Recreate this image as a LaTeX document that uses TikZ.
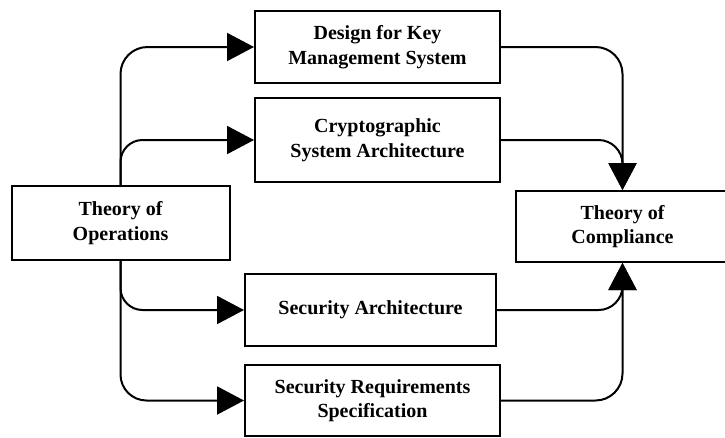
\documentclass[tikz,border=0pt]{standalone}
\usepackage{fontspec}
\setmainfont{Liberation Serif}
\usetikzlibrary{arrows.meta}
\begin{document}
\begin{tikzpicture}[x=1pt,y=-1pt,
  box/.style={draw,line width=2pt,inner sep=0pt,align=center,
    font=\fontsize{20}{24.5}\selectfont\bfseries},
  conn/.style={line width=2pt,-{Triangle[length=27pt,width=28pt]}}]
\useasboundingbox (0,0) rectangle (725,437);
\node[box,minimum width=245pt,minimum height=72pt] (design) at (377.5,47) {Design for Key\\Management System};
\node[box,minimum width=245pt,minimum height=84pt] (crypto) at (377.5,140) {Cryptographic\\System Architecture};
\node[box,minimum width=218pt,minimum height=74pt] (ops) at (120.5,223) {Theory of\\Operations};
\node[box,minimum width=214pt,minimum height=71pt] (comp) at (622.5,226.5) {Theory of\\Compliance};
\node[box,minimum width=251pt,minimum height=72pt] (secarch) at (370.5,310) {Security Architecture};
\node[box,minimum width=255pt,minimum height=71pt] (secreq) at (372.5,400.5) {Security Requirements\\Specification};
\draw[conn,rounded corners=27pt] (ops.north) |- (design.west);
\draw[conn,rounded corners=22pt] (ops.north) |- (crypto.west);
\draw[conn,rounded corners=22pt] (ops.south) |- (secarch.west);
\draw[conn,rounded corners=26pt] (ops.south) |- (secreq.west);
\draw[conn,rounded corners=27pt] (design.east) -| (comp.north);
\draw[conn,rounded corners=24pt] (crypto.east) -| (comp.north);
\draw[conn,rounded corners=24pt] (secarch.east) -| (comp.south);
\draw[conn,rounded corners=27pt] (secreq.east) -| (comp.south);
\end{tikzpicture}
\end{document}
